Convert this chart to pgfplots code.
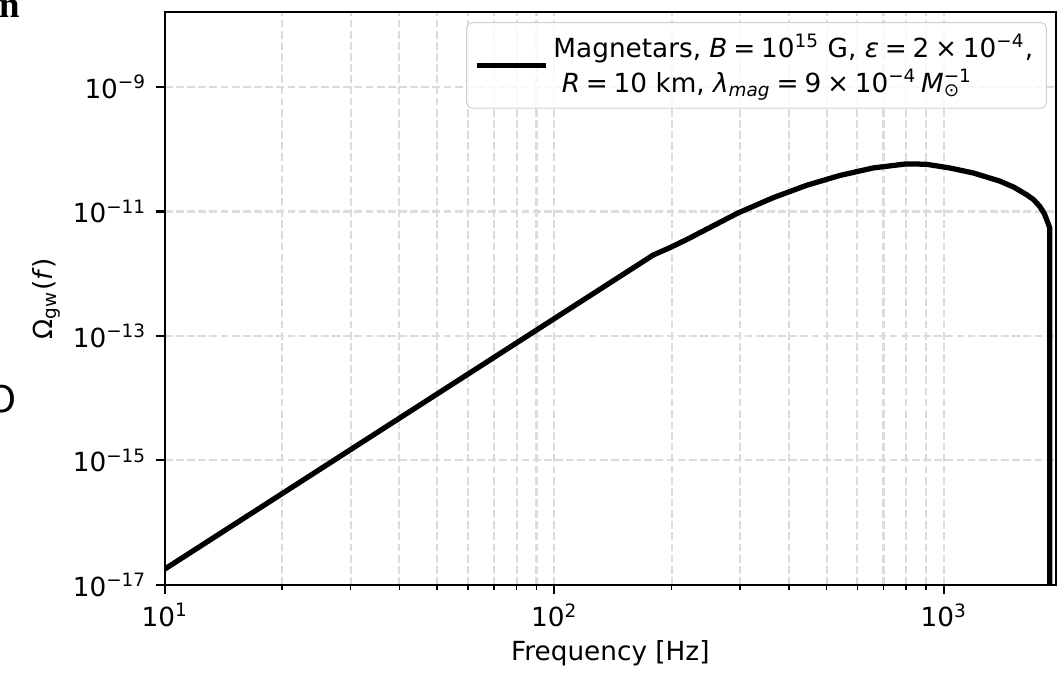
\documentclass[border=0pt]{standalone}
\usepackage{fontspec}
\setmainfont{DejaVu Sans}
\newfontfamily\serifbold{Liberation Serif}
\usepackage{pgfplots}
\pgfplotsset{compat=1.18}
\definecolor{gridc}{HTML}{DCDCDC}
\definecolor{legc}{HTML}{D0D0D0}
\newcommand{\op}[1]{\hspace{0.22em}#1\hspace{0.22em}}
\begin{document}
\begin{tikzpicture}
\useasboundingbox (-62.7pt,-35pt) rectangle (341.9pt,222.4pt);
\node[anchor=base west, inner sep=0pt, font=\serifbold\bfseries\fontsize{14}{14}\selectfont] at (-63.2pt,215.9pt) {n};
\node[anchor=east, inner sep=0pt, font=\fontsize{14}{14}\selectfont] at (-56.2pt,70.7pt) {O};
\begin{axis}[
  at={(0,0)}, anchor=south west, scale only axis,
  width=338.8pt, height=217.8pt,
  xmode=log, ymode=log,
  xmin=10, xmax=1940, ymin=1e-17, ymax=1.6e-8,
  xtick={10,100,1000},
  xticklabels={10\textsuperscript{1},10\textsuperscript{2},10\textsuperscript{3}},
  minor xtick={20,30,40,50,60,70,80,90,200,300,400,500,600,700,800,900},
  ytick={1e-17,1e-15,1e-13,1e-11,1e-9},
  yticklabels={10\textsuperscript{−17},10\textsuperscript{−15},10\textsuperscript{−13},10\textsuperscript{−11},10\textsuperscript{−9}},
  yminorticks=false,
  xmajorgrids, xminorgrids, ymajorgrids,
  major grid style={gridc, dash pattern=on 2.96pt off 1.28pt, line width=0.8pt},
  minor grid style={gridc, dash pattern=on 2.96pt off 1.28pt, line width=0.8pt},
  axis line style={line width=0.8pt},
  tick align=outside, tick pos=left,
  major tick length=3.5pt, minor tick length=2pt,
  major tick style={black, line width=0.8pt},
  minor tick style={black, line width=0.6pt},
  tick label style={font=\fontsize{10}{12}\selectfont},
  xlabel={Frequency [Hz]},
  ylabel={Ω\textsubscript{gw}(\textit{f})},
  xlabel style={at={(axis description cs:0.5,0)}, anchor=base, yshift=-28.6pt, font=\fontsize{10}{12}\selectfont},
  ylabel style={at={([xshift=-45.2pt]axis description cs:0,0.5)}, anchor=center, font=\fontsize{10}{12}\selectfont},
  legend style={at={(axis description cs:1,1)}, anchor=north east, xshift=-3.4pt, yshift=-3.8pt,
    draw=legc, rounded corners=2pt, fill=white, fill opacity=0.8, text opacity=1,
    font=\fontsize{10}{13.3}\selectfont, inner xsep=3pt, inner ysep=2.5pt,
    cells={anchor=west, align=left}},
  legend image code/.code={\draw[#1, line width=2pt] (0pt,0pt) -- (21pt,0pt); \path (0pt,0pt) -- (26pt,0pt);},
]
\addplot[black, line width=2pt, line join=round] coordinates {
(10, 1.80e-17)
(179.5, 2.00e-12)
(198, 2.62e-12)
(221, 3.66e-12)
(246, 5.19e-12)
(295.5, 9.40e-12)
(365, 1.67e-11)
(444, 2.63e-11)
(541.5, 3.80e-11)
(658.5, 5.01e-11)
(801, 5.82e-11)
(901, 5.75e-11)
(1035, 5.01e-11)
(1189, 4.17e-11)
(1391, 3.09e-11)
(1515, 2.45e-11)
(1632, 1.86e-11)
(1701, 1.55e-11)
(1765, 1.20e-11)
(1810, 9.33e-12)
(1835, 7.59e-12)
(1870, 5.50e-12)
(1870, 1e-20)
};
\addlegendentry{Magnetars, \textit{B}\op{=}10\textsuperscript{15} G, \textit{ε}\op{=}2\op{×}10\textsuperscript{−4},\\
\ \textit{R}\op{=}10 km, \textit{λ}\textsubscript{\textit{mag}}\op{=}9\op{×}10\textsuperscript{−4}\,\textit{M}\rlap{\textsubscript{⊙}}\textsuperscript{−1}}
\end{axis}
\end{tikzpicture}
\end{document}
